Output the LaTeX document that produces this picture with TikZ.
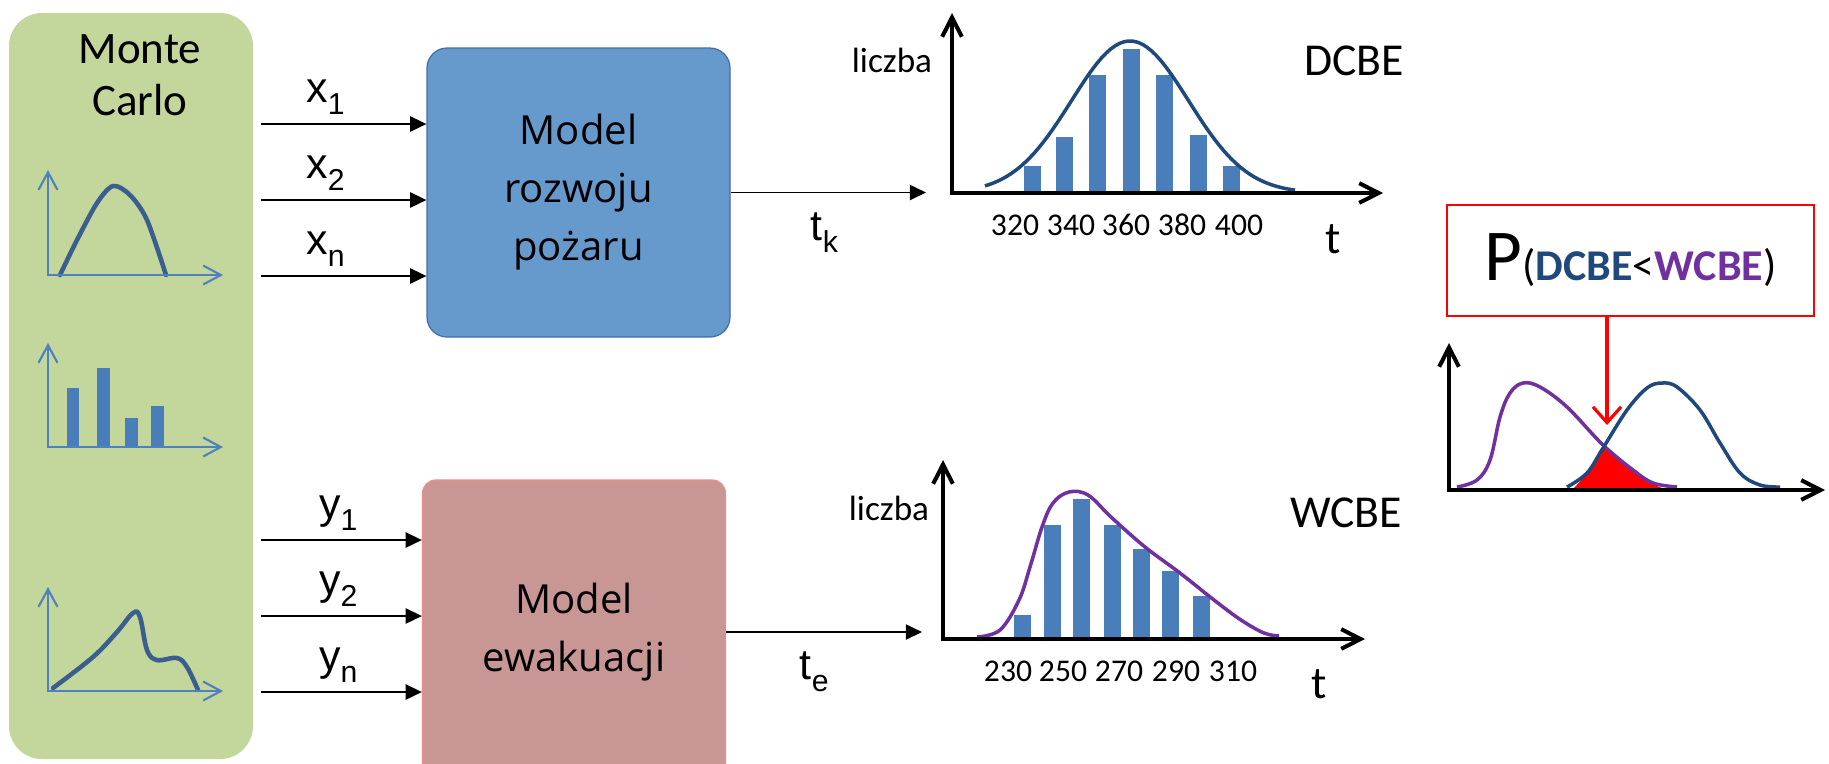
\documentclass[tikz,border=0pt]{standalone}
\usepackage{fontspec}
\setmainfont{Carlito}
\newfontfamily\arialfont{Liberation Sans}
\newfontfamily\boxfont{Open Sans}
\usetikzlibrary{arrows.meta,calc}
\definecolor{mcgreen}{HTML}{C3D69B}
\definecolor{fireblue}{HTML}{6699CC}
\definecolor{fireedge}{HTML}{3F6EAF}
\definecolor{evacpink}{HTML}{C99696}
\definecolor{evacedge}{HTML}{F28A8A}
\definecolor{barblue}{HTML}{4A7EBB}
\definecolor{axisblue}{HTML}{4F81BD}
\definecolor{minicol}{HTML}{3A5F8F}
\definecolor{dcbecol}{HTML}{1F497D}
\definecolor{wcbecol}{HTML}{7030A0}
\newcommand\lowsub[1]{\raisebox{-0.28em}{\fontsize{8.6}{8.6}\selectfont #1}}
\newcommand\idx[2]{{\arialfont\fontsize{12.2}{14}\selectfont #1\lowsub{#2}}}
\tikzset{
    >={Triangle[length=4.6pt,width=4.3pt]},
    mcbox/.style={rectangle, rounded corners=9.4pt, fill=mcgreen, minimum width=2.44cm, minimum height=7.46cm, inner sep=0pt},
    modelbox/.style={rectangle, draw, line width=0.35pt, align=center, inner sep=0pt, minimum width=3.03cm, font={\boxfont\fontsize{11.4}{16.5}\selectfont}},
    conn/.style={->, line width=0.55pt},
    inlabel/.style={inner sep=0pt, above=0.9mm},
    outlabel/.style={inner sep=0pt, below=1.9mm},
    miniaxis/.style={draw=axisblue, line width=0.6pt, {Straight Barb[length=5pt,width=5.4pt]}-{Straight Barb[length=5pt,width=5.4pt]}},
    minicurve/.style={draw=minicol, line width=1.3pt, line cap=round},
    histbar/.style={fill=barblue},
    chartaxis/.style={line width=1.15pt, {Straight Barb[length=5.5pt,width=5.6pt]}-{Straight Barb[length=5.5pt,width=5.6pt]}},
    numlabel/.style={anchor=base, inner sep=0pt, font={\fontsize{9}{11}\selectfont}},
    axlabel/.style={anchor=base, inner sep=0pt, font={\fontsize{10}{12}\selectfont}},
    distlabel/.style={anchor=base, inner sep=0pt, font={\fontsize{13}{15}\selectfont}},
    tlabel/.style={anchor=base, inner sep=0pt, font={\fontsize{13}{15}\selectfont}},
    pbox/.style={rectangle, draw=red, line width=0.77pt, minimum width=3.67cm, minimum height=1.11cm, inner sep=0pt, font={\fontsize{20.8}{24}\selectfont}}
}
\begin{document}
\begin{tikzpicture}[x=0.1mm, y=-0.1mm]
    \clip (0,0) rectangle (1829,763);
    \fill[white] (0,0) rectangle (1829,763);

    % Monte Carlo column
    \node[mcbox] (mc) at (131,386) {};
    \node[anchor=north, inner sep=0pt, align=center, font={\fontsize{12.8}{14.8}\selectfont}] (mctitle) at (140,34) {Monte\\Carlo};

    \draw[minicurve] plot[smooth] coordinates {(60,275) (77,240) (97,203) (113,186) (130,195) (147,220) (166,275)};
    \draw[miniaxis] (48,170) |- (223,275);

    \foreach \a/\b/\h in {67/79/388, 97/110/368, 125/138/418, 151/164/406}
        \fill[histbar] (\a,447) rectangle (\b,\h);
    \draw[miniaxis] (48,343) |- (223,447);

    \draw[minicurve] plot[smooth, tension=0.6] coordinates {(53,688) (93,657) (117,632) (133,613) (140,617) (147,650) (157,660) (177,658) (187,667) (198,690)};
    \draw[miniaxis] (48,587) |- (223,691);

    % models
    \node[modelbox, fill=fireblue, draw=fireedge, minimum height=2.89cm, rounded corners=5.7pt] (fire) at (578.5,192.5) {Model\\rozwoju\\pożaru};
    \node[modelbox, fill=evacpink, draw=evacedge, minimum height=3.04cm, rounded corners=3.8pt] (evac) at (574,632) {Model\\ewakuacji};

    \coordinate (x1) at (261,124);
    \coordinate (x2) at (261,200);
    \coordinate (xn) at (261,276);
    \draw[conn] (x1) -- node[inlabel, pos=0.39] {\idx{x}{1}} (x1 -| fire.west);
    \draw[conn] (x2) -- node[inlabel, pos=0.39] {\idx{x}{2}} (x2 -| fire.west);
    \draw[conn] (xn) -- node[inlabel, pos=0.39] {\idx{x}{n}} (xn -| fire.west);

    \coordinate (y1) at (261,540);
    \coordinate (y2) at (261,616);
    \coordinate (yn) at (261,692);
    \draw[conn] (y1) -- node[inlabel, pos=0.48] {\idx{y}{1}} (y1 -| evac.west);
    \draw[conn] (y2) -- node[inlabel, pos=0.48] {\idx{y}{2}} (y2 -| evac.west);
    \draw[conn] (yn) -- node[inlabel, pos=0.48] {\idx{y}{n}} (yn -| evac.west);

    % DCBE
    \coordinate (dcbe-in) at (926,192.5);
    \draw[conn] (fire.east) -- node[outlabel, pos=0.48] {\idx{t}{k}} (dcbe-in);
    \foreach \x/\h in {1032/166, 1064/137, 1097/75, 1131/49, 1164/75, 1198/135, 1231/166}
        \fill[histbar] (\x-8.5,193) rectangle (\x+8.5,\h);
    \draw[dcbecol, line width=1pt] plot[domain=985:1295, samples=70] (\x, {193-152*exp(-((\x-1130)/58.6)^2/2)});
    \draw[chartaxis] (952,13) |- (1383,193);
    \foreach \x/\v in {1015/320, 1071/340, 1126/360, 1182/380, 1239/400}
        \node[numlabel] (d\v) at (\x,235) {\v};
    \node[axlabel] (dy) at (892,72) {liczba};
    \node[distlabel] (dname) at (1354,75) {DCBE};
    \node[tlabel] (dt) at (1333,253) {t};

    % WCBE
    \coordinate (wcbe-in) at (922,632);
    \draw[conn] (evac.east) -- node[outlabel, pos=0.45] {\idx{t}{e}} (wcbe-in);
    \foreach \x/\h in {1022/615, 1052/525, 1081/499, 1112/525, 1141/549, 1170/571, 1201/596}
        \fill[histbar] (\x-8.5,639) rectangle (\x+8.5,\h);
    \draw[wcbecol, line width=1pt] plot[smooth, tension=0.6] coordinates {(977,637) (1000,630) (1019,600) (1030,567) (1042,527) (1053,503) (1069,492) (1088,495) (1111,517) (1145,547) (1180,573) (1214,600) (1241,620) (1264,633) (1279,636)};
    \draw[chartaxis] (943,460) |- (1365,639);
    \foreach \x/\v in {1008/230, 1063/250, 1119/270, 1176/290, 1233/310}
        \node[numlabel] (w\v) at (\x,681) {\v};
    \node[axlabel] (wy) at (889,520) {liczba};
    \node[distlabel] (wname) at (1346,527) {WCBE};
    \node[tlabel] (wt) at (1319,698) {t};

    % probability
    \node[pbox] (pbox) at (1630.5,260.5) {P{\fontsize{12.5}{14}\selectfont(\textbf{\color{dcbecol}DCBE}<\textbf{\color{wcbecol}WCBE})}};
    \coordinate (hit) at (1607,425);
    \fill[red] plot[smooth] coordinates {(1573,489) (1587,473) (1605,446)} -- plot[smooth] coordinates {(1620,458) (1633,470) (1653,484) (1665,489)} -- cycle;
    \draw[wcbecol, line width=1pt] plot[smooth, tension=0.6] coordinates {(1457,487) (1477,480) (1490,460) (1500,417) (1510,393) (1523,383) (1540,387) (1567,407) (1603,445) (1633,470) (1653,483) (1677,487)};
    \draw[dcbecol, line width=1pt] plot[smooth, tension=0.6] coordinates {(1567,487) (1587,473) (1603,448) (1627,410) (1647,388) (1662,383) (1677,387) (1700,410) (1720,443) (1740,473) (1760,485) (1780,487)};
    \draw[chartaxis] (1449,343) |- (1825,490);
    \draw[red, line width=0.9pt, -{Straight Barb[length=4.5pt,width=8pt]}] (pbox.south -| hit) -- (hit);
\end{tikzpicture}
\end{document}
